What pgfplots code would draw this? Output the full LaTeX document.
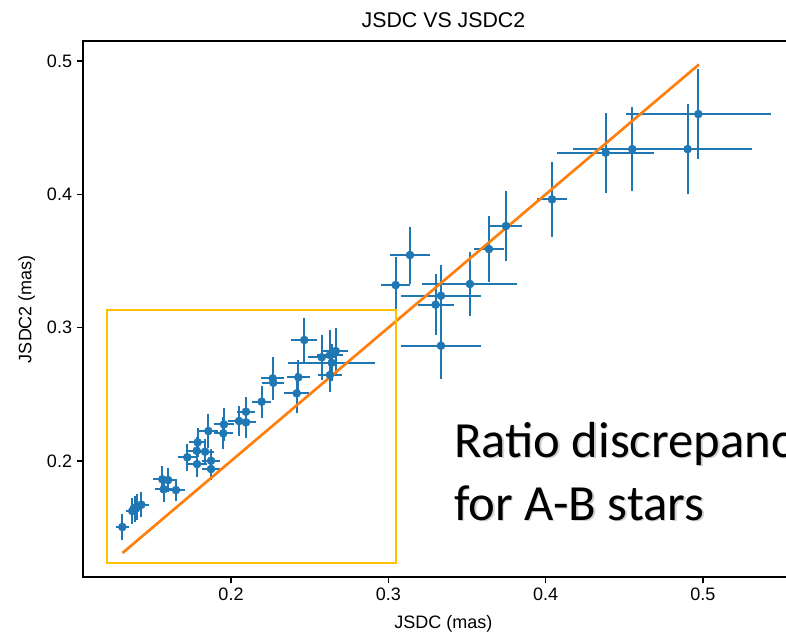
\documentclass[border=0pt]{standalone}
\usepackage{pgfplots}
\pgfplotsset{compat=1.18}
\usepackage{pgfplotstable}
\usepackage{fontspec}
\setmainfont{Liberation Sans}
\newfontfamily\calib{Carlito}
\definecolor{c0}{RGB}{31,119,180}
\definecolor{c1}{RGB}{255,127,14}
\definecolor{gold}{RGB}{255,192,0}

\pgfplotstableread{
x y ex ey
0.1309 0.1505 0.0040 0.0100
0.1372 0.1625 0.0040 0.0100
0.1390 0.1640 0.0040 0.0095
0.1405 0.1655 0.0045 0.0100
0.1430 0.1672 0.0050 0.0095
0.1563 0.1863 0.0060 0.0100
0.1600 0.1857 0.0050 0.0090
0.1572 0.1788 0.0055 0.0095
0.1650 0.1782 0.0060 0.0085
0.1722 0.2028 0.0060 0.0100
0.1788 0.2140 0.0055 0.0110
0.1782 0.2077 0.0060 0.0100
0.1784 0.1977 0.0065 0.0100
0.1835 0.2070 0.0055 0.0095
0.1856 0.2225 0.0060 0.0130
0.1873 0.2002 0.0060 0.0090
0.1873 0.1940 0.0060 0.0080
0.1955 0.2275 0.0065 0.0125
0.1951 0.2208 0.0060 0.0120
0.2051 0.2300 0.0070 0.0110
0.2095 0.2290 0.0065 0.0120
0.2095 0.2370 0.0060 0.0110
0.2195 0.2445 0.0060 0.0120
0.2265 0.2620 0.0075 0.0160
0.2269 0.2587 0.0070 0.0130
0.2428 0.2628 0.0075 0.0130
0.2418 0.2508 0.0080 0.0150
0.2466 0.2908 0.0083 0.0165
0.2577 0.2778 0.0090 0.0170
0.2629 0.2795 0.0080 0.0190
0.2640 0.2737 0.0275 0.0140
0.2666 0.2825 0.0080 0.0170
0.2629 0.2645 0.0075 0.0130
0.3138 0.3545 0.0127 0.0214
0.3047 0.3320 0.0092 0.0210
0.3335 0.3240 0.0252 0.0230
0.3301 0.3173 0.0114 0.0230
0.3519 0.3328 0.0302 0.0240
0.3640 0.3590 0.0095 0.0250
0.3335 0.2865 0.0255 0.0250
0.3748 0.3763 0.0105 0.0260
0.4041 0.3963 0.0095 0.0280
0.4382 0.4313 0.0307 0.0300
0.4551 0.4340 0.0375 0.0315
0.4903 0.4340 0.0407 0.0340
0.4971 0.4603 0.0459 0.0340
}\datatable

\begin{document}
\begin{tikzpicture}
\begin{axis}[
  at={(62.25pt,42pt)}, anchor=south west,
  scale only axis, width=540.75pt, height=402pt,
  xmin=0.1059, xmax=0.5643, ymin=0.113, ymax=0.5151,
  xtick={0.2,0.3,0.4,0.5}, xticklabels={0.2,0.3,0.4,0.5},
  ytick={0.2,0.3,0.4,0.5}, yticklabels={0.2,0.3,0.4,0.5},
  tick align=outside, major tick length=4.7pt,
  xtick pos=lower, ytick pos=left,
  tick style={line width=1.0pt, black},
  axis line style={line width=1.0pt},
  ticklabel style={font=\fontsize{13.5}{16}\selectfont},
  /pgf/number format/assume math mode=true,
  clip=false,
]
\addplot[only marks, mark=*, mark size=3pt, color=c0, fill=c0,
  error bars/.cd, x dir=both, x explicit, y dir=both, y explicit,
  error mark=none, error bar style={line width=1.45pt, color=c0}]
  table[x=x, y=y, x error=ex, y error=ey] {\datatable};
\addplot[c1, line width=2pt] coordinates {(0.131,0.131) (0.4975,0.4975)};
\draw[gold, line width=1.7pt] (axis cs:0.121,0.1233) rectangle (axis cs:0.305,0.3133);
\end{axis}
\node[anchor=base, font=\fontsize{16}{19}\selectfont] at (332.6pt,453.75pt) {JSDC VS JSDC2};
\node[anchor=base, font=\fontsize{13.5}{16}\selectfont] at (332.6pt,3.75pt) {JSDC (mas)};
\node[anchor=base, rotate=90, font=\fontsize{13.5}{16}\selectfont] at (23.6pt,243pt) {JSDC2 (mas)};
\begin{scope}[font=\calib\fontsize{38}{46}\selectfont]
\node[anchor=base west, inner sep=0pt, text=black!18] at (341.5pt,131pt) {Ratio discrepancy};
\node[anchor=base west, inner sep=0pt, text=black!18] at (341.5pt,83.75pt) {for A-B stars};
\node[anchor=base west, inner sep=0pt] at (340.5pt,132pt) {Ratio discrepancy};
\node[anchor=base west, inner sep=0pt] at (340.5pt,84.75pt) {for A-B stars};
\end{scope}
\pgfresetboundingbox
\useasboundingbox (0,0) rectangle (589.5pt,474.75pt);
\end{tikzpicture}
\end{document}
